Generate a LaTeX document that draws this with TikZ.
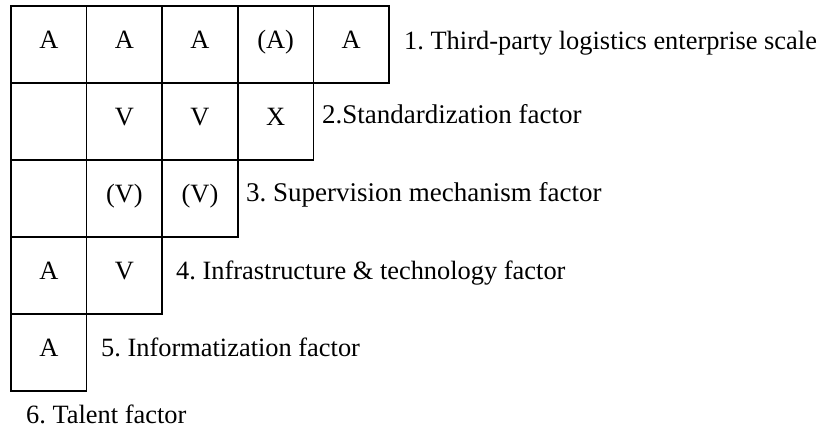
\documentclass[tikz,border=0pt]{standalone}
\usepackage{fontspec}
\setmainfont{Liberation Serif}
\frenchspacing
\begin{document}
\begin{tikzpicture}[x=1pt,y=-1pt,
  cell/.style={draw=black,line width=1.6pt,minimum width=75.6pt,minimum height=77pt,inner sep=0pt,
    text height=18pt,text depth=9pt,font=\fontsize{26.4}{30}\selectfont},
  lab/.style={anchor=base west,inner sep=0pt,font=\fontsize{26.4}{30}\selectfont},
  labwide/.style={lab,font=\fontsize{27}{30}\selectfont}]
\useasboundingbox (0,0) rectangle (820,438);
% row 1
\node[cell] (c11) at (48.8,44.5) {A};
\node[cell] (c12) at (124.4,44.5) {A};
\node[cell] (c13) at (200,44.5) {A};
\node[cell] (c14) at (275.6,44.5) {(A)};
\node[cell] (c15) at (351.2,44.5) {A};
% row 2
\node[cell] (c21) at (48.8,121.5) {};
\node[cell] (c22) at (124.4,121.5) {V};
\node[cell] (c23) at (200,121.5) {V};
\node[cell] (c24) at (275.6,121.5) {X};
% row 3
\node[cell] (c31) at (48.8,198.5) {};
\node[cell] (c32) at (124.4,198.5) {(V)};
\node[cell] (c33) at (200,198.5) {(V)};
% row 4
\node[cell] (c41) at (48.8,275.5) {A};
\node[cell] (c42) at (124.4,275.5) {V};
% row 5
\node[cell] (c51) at (48.8,352.5) {A};
% labels
\node[lab] (l1) at (404,50) {1. Third-party logistics enterprise scale};
\node[labwide] (l2) at (322,124) {2.Standardization factor};
\node[labwide] (l3) at (246,201.5) {3. Supervision mechanism factor};
\node[lab] (l4) at (176,280) {4. Infrastructure \& technology factor};
\node[lab] (l5) at (101,357) {5. Informatization factor};
\node[lab] (l6) at (26,424) {6. Talent factor};
\end{tikzpicture}
\end{document}
